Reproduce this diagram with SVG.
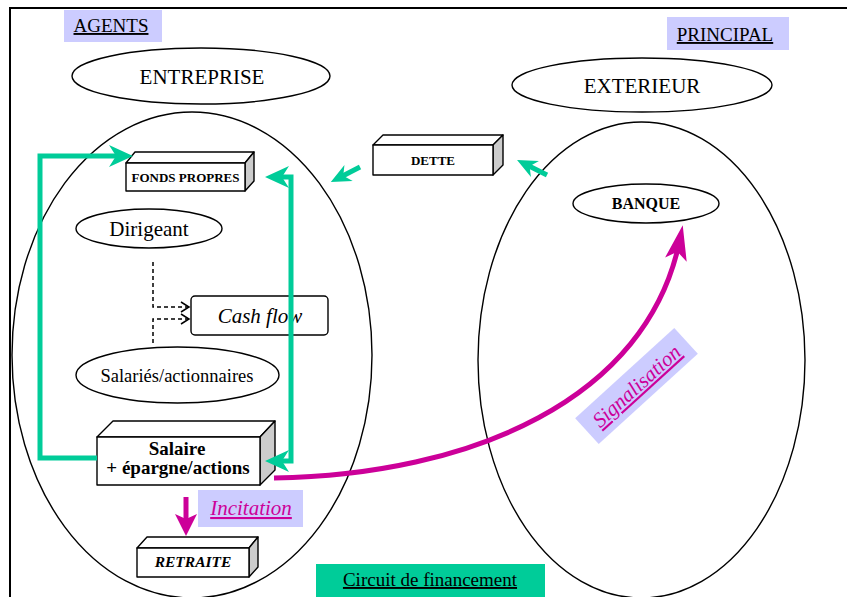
<svg xmlns="http://www.w3.org/2000/svg" width="847" height="597" viewBox="0 0 847 597">
<style>
.t{font-family:"Liberation Serif","Times New Roman",serif;fill:#000;text-anchor:middle}
.b{font-weight:bold}
.i{font-style:italic}
.u{text-decoration:underline}
.el{fill:#fff;stroke:#000;stroke-width:1.4}
.big{fill:none;stroke:#000;stroke-width:1.4}
.face{fill:#fff;stroke:#000;stroke-width:1.4;stroke-linejoin:round}
.side{fill:#cccccc;stroke:#000;stroke-width:1.4;stroke-linejoin:round}
.lab{fill:#ccccff}
.g{fill:none;stroke:#00cc99;stroke-width:5}
.m{fill:none;stroke:#cc0099;stroke-width:5}
.d{fill:none;stroke:#000;stroke-width:1.5;stroke-dasharray:4 3}
.mg{fill:#cc0099}
</style>
<defs>
<marker id="ga" markerUnits="userSpaceOnUse" viewBox="-26 -12 28 24" refX="-12" refY="0" markerWidth="28" markerHeight="24" orient="auto-start-reverse"><path d="M0,0 L-24,-11 L-17,0 L-24,11 Z" fill="#00cc99"/></marker>
<marker id="gs" markerUnits="userSpaceOnUse" viewBox="-22 -10 24 20" refX="-10" refY="0" markerWidth="24" markerHeight="20" orient="auto"><path d="M0,0 L-20,-9 L-14,0 L-20,9 Z" fill="#00cc99"/></marker>
<marker id="ma" markerUnits="userSpaceOnUse" viewBox="-24 -12 26 24" refX="-12" refY="0" markerWidth="26" markerHeight="24" orient="auto"><path d="M0,0 L-22,-11 L-17,0 L-22,11 Z" fill="#cc0099"/></marker>
<marker id="mb" markerUnits="userSpaceOnUse" viewBox="-37 -12 39 24" refX="-14" refY="0" markerWidth="39" markerHeight="24" orient="auto"><path d="M0,0 L-35,-11 L-27,0 L-35,11 Z" fill="#cc0099"/></marker>
<marker id="da" markerUnits="userSpaceOnUse" viewBox="-10 -7 12 14" refX="0" refY="0" markerWidth="12" markerHeight="14" orient="auto"><path d="M-8,-5 L0,0 L-8,5" fill="none" stroke="#000" stroke-width="1.5"/></marker>
</defs>
<rect width="847" height="597" fill="#fff"/>
<g id="frame">
<line x1="9" y1="8" x2="847" y2="8" stroke="#000" stroke-width="2"/>
<line x1="10" y1="8" x2="10" y2="597" stroke="#000" stroke-width="2"/>
</g>
<g id="entreprise-zone"><ellipse class="big" cx="192" cy="355" rx="180" ry="243"/></g>
<g id="exterieur-zone"><ellipse class="big" cx="641.5" cy="360" rx="163.5" ry="238"/></g>
<g id="agents"><rect class="lab" x="64" y="10" width="98" height="32"/><text class="t u" x="111" y="32" font-size="19">AGENTS</text></g>
<g id="principal"><rect class="lab" x="667" y="17" width="122" height="33"/><text class="t u" x="725" y="41" font-size="19">PRINCIPAL</text></g>
<g id="entreprise"><ellipse class="el" cx="201" cy="76" rx="129" ry="28"/><text class="t" x="202" y="84" font-size="21">ENTREPRISE</text></g>
<g id="exterieur"><ellipse class="el" cx="642" cy="85" rx="130" ry="27"/><text class="t" x="642" y="93" font-size="21">EXTERIEUR</text></g>
<g id="fonds-propres">
<polygon class="face" points="126,163 135,152 254,152 245,163"/>
<polygon class="side" points="245,163 254,152 254,181 245,191"/>
<rect class="face" x="126" y="163" width="119" height="28"/>
<text class="t b" x="185.5" y="182" font-size="13">FONDS PROPRES</text>
</g>
<g id="dette">
<polygon class="face" points="373,145 383,135 503,135 493,145"/>
<polygon class="side" points="493,145 503,135 503,165 493,175"/>
<rect class="face" x="373" y="145" width="120" height="30"/>
<text class="t b" x="433" y="165" font-size="13">DETTE</text>
</g>
<g id="banque"><ellipse class="el" cx="646" cy="203.5" rx="73" ry="19.5"/><text class="t b" x="646" y="209" font-size="16">BANQUE</text></g>
<g id="dirigeant"><ellipse class="el" cx="149" cy="228.5" rx="73" ry="19.5"/><text class="t" x="149" y="236" font-size="21">Dirigeant</text></g>
<g id="cash-flow"><rect class="face" x="191" y="296" width="137" height="39" rx="4"/><text class="t i" x="260" y="323" font-size="21">Cash flow</text></g>
<g id="salaries"><ellipse class="el" cx="177.5" cy="375" rx="101.5" ry="28"/><text class="t" x="177" y="382" font-size="18.5">Salariés/actionnaires</text></g>
<g id="salaire">
<polygon class="face" points="97,437 113,421 275,421 260,437"/>
<polygon class="side" points="260,437 275,421 275,470 260,485"/>
<rect class="face" x="97" y="437" width="163" height="48"/>
<text class="t b" x="177" y="455" font-size="19">Salaire</text>
<text class="t b" x="178" y="474" font-size="19">+ épargne/actions</text>
</g>
<g id="retraite">
<polygon class="face" points="137,548 147,537 258,537 249,548"/>
<polygon class="side" points="249,548 258,537 258,567 249,577"/>
<rect class="face" x="137" y="548" width="112" height="29"/>
<text class="t b i" x="193" y="567" font-size="15.5">RETRAITE</text>
</g>
<g id="incitation"><rect class="lab" x="198" y="490" width="105" height="37"/><text class="t i u" x="251" y="515" font-size="21" fill="#cc0099" style="fill:#cc0099">Incitation</text></g>
<g id="signalisation" transform="translate(636.5,386) rotate(-42.3)"><rect class="lab" x="-67" y="-17.5" width="134" height="35"/><text class="t i u" x="0" y="7" font-size="21" style="fill:#cc0099">Signalisation</text></g>
<g id="circuit"><rect x="316" y="564" width="229" height="33" fill="#00cc99"/><text class="t u" x="430" y="586" font-size="19">Circuit de financement</text></g>
<g id="connectors">
<path class="g" d="M97,458 H40 V156 H121" marker-end="url(#ga)"/>
<path class="g" d="M277,461 H291 V177 H277" marker-start="url(#ga)" marker-end="url(#ga)"/>
<path class="g" d="M360,167 L339.7,177.5" marker-end="url(#gs)"/>
<path class="g" d="M547,175 L526,164.5" marker-end="url(#gs)"/>
<path class="d" d="M153,262 V307 H189" marker-end="url(#da)"/>
<path class="d" d="M153,343 V319 H189" marker-end="url(#da)"/>
<path class="m" d="M186,497 V524" marker-end="url(#ma)"/>
<path class="m" d="M274,478 C470,475 648,400 680,239" marker-end="url(#mb)"/>
</g>
</svg>
